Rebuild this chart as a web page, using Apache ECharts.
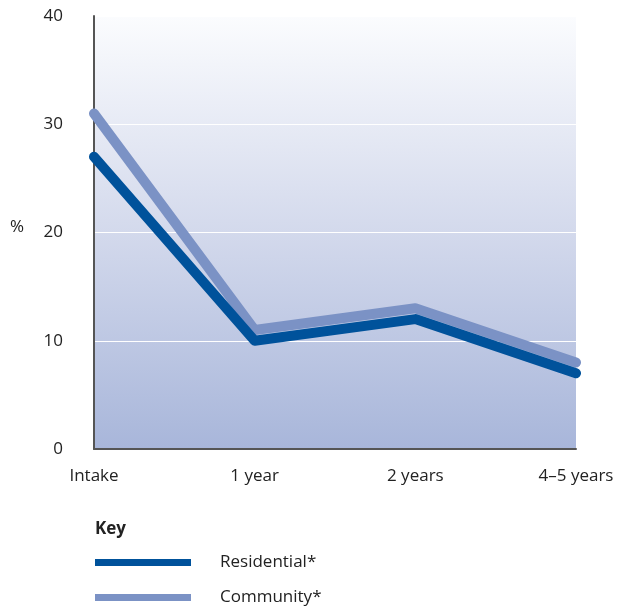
<!DOCTYPE html>
<html>
<head>
<meta charset="utf-8">
<script src="https://cdn.jsdelivr.net/npm/echarts@6/dist/echarts.min.js"></script>
<style>
  html, body { margin: 0; padding: 0; background: #ffffff; }
  #chart { width: 618px; height: 609px; }
</style>
</head>
<body>
<div id="chart"></div>
<script>
// Follow-up points and percentages for each care setting
const categories = ['Intake', '1 year', '2 years', '4\u20135 years'];
const residential = [27, 10, 12, 7];
const community = [31, 11, 13, 8];
const yTicks = { min: 0, max: 40, interval: 10 };

const FONT = '"Open Sans", "Noto Sans", sans-serif';
const DARK = '#00529b';
const LIGHT = '#7b92c5';

const chart = echarts.init(document.getElementById('chart'), null, { renderer: 'canvas' });

// one key entry per legend block so the entries stack vertically
function keyEntry(name, top) {
  return {
    left: 90, top: top,
    orient: 'vertical',
    itemWidth: 96, itemHeight: 7,
    icon: 'rect',
    data: [name],
    textStyle: { fontFamily: FONT, fontSize: 17, color: '#222', padding: [0, 0, 0, 24] }
  };
}

chart.setOption({
  animation: false,
  backgroundColor: '#ffffff',
  grid: {
    left: 94, right: 42, top: 16, bottom: 160,
    show: true,
    borderWidth: 0,
    backgroundColor: new echarts.graphic.LinearGradient(0, 0, 0, 1, [
      { offset: 0, color: '#fbfcfe' },
      { offset: 0.5, color: '#d3d9ec' },
      { offset: 1, color: '#a8b6da' }
    ])
  },
  title: {
    text: 'Key',
    left: 90, top: 516,
    textStyle: { fontFamily: FONT, fontSize: 17, fontWeight: 'bold', color: '#222' }
  },
  legend: [keyEntry('Residential*', 549), keyEntry('Community*', 584)],
  graphic: [{
    type: 'text',
    left: 10, top: 219,
    style: { text: '%', font: '17px ' + FONT, fill: '#222' }
  }],
  xAxis: {
    type: 'category',
    data: categories,
    boundaryGap: false,
    axisLine: { show: true, lineStyle: { color: '#555', width: 2 } },
    axisTick: { show: false },
    axisLabel: { fontFamily: FONT, fontSize: 17, color: '#222', margin: 19 },
    splitLine: { show: false }
  },
  yAxis: {
    type: 'value',
    min: yTicks.min, max: yTicks.max, interval: yTicks.interval,
    axisLine: { show: true, lineStyle: { color: '#555', width: 2 } },
    axisTick: { show: false },
    axisLabel: { fontFamily: FONT, fontSize: 17, color: '#222', margin: 31 },
    splitLine: { show: true, lineStyle: { color: '#ffffff', width: 1.2 } }
  },
  series: [
    {
      name: 'Community*',
      type: 'line',
      data: community,
      showSymbol: false,
      symbol: 'none',
      color: LIGHT,
      lineStyle: { color: LIGHT, width: 10, cap: 'round', join: 'round' },
      z: 2
    },
    {
      name: 'Residential*',
      type: 'line',
      data: residential,
      showSymbol: false,
      symbol: 'none',
      color: DARK,
      lineStyle: { color: DARK, width: 10, cap: 'round', join: 'round' },
      z: 3
    }
  ]
});
</script>
</body>
</html>
